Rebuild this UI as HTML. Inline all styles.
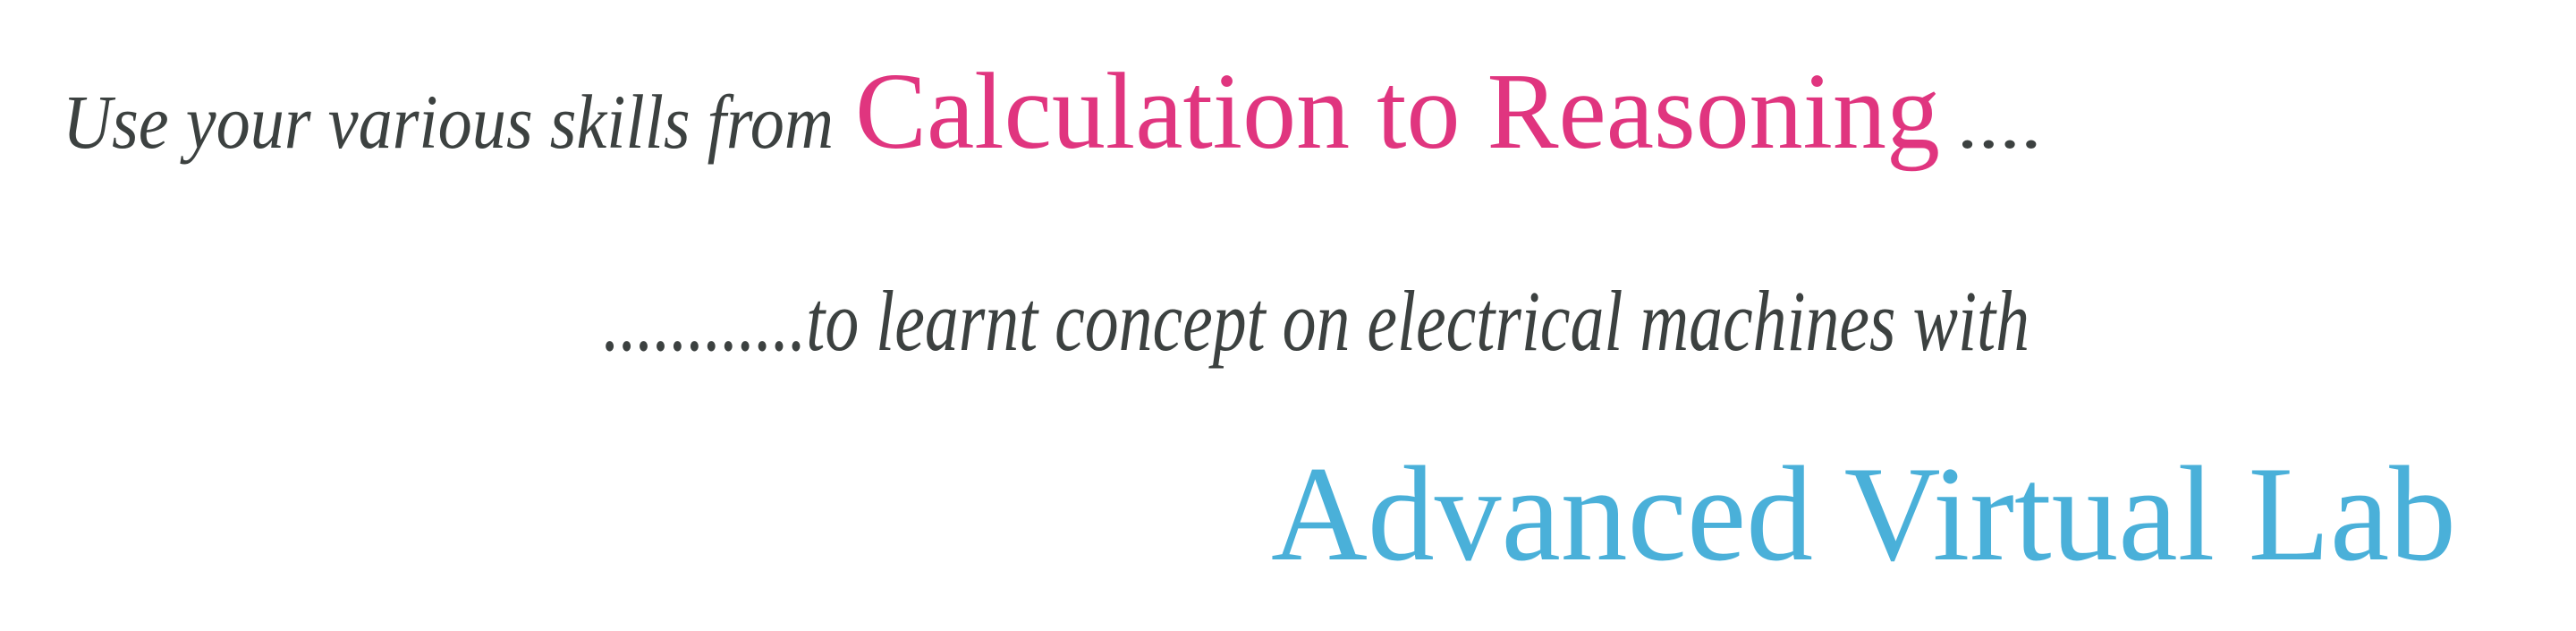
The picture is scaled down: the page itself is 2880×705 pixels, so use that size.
<!DOCTYPE html>
<html><head><meta charset="utf-8"><style>html,body{margin:0;padding:0;background:#fff;width:2880px;height:705px;overflow:hidden}</style></head>
<body>
<svg width="2880" height="705" xmlns="http://www.w3.org/2000/svg">
<text x="70" y="165" font-family="Liberation Serif, serif" font-style="italic" font-size="86" fill="#3c4140" textLength="862" lengthAdjust="spacingAndGlyphs">Use your various skills from</text>
<text x="956" y="165" font-family="Liberation Serif, serif" font-size="122" fill="#e0357f" textLength="1213" lengthAdjust="spacingAndGlyphs">Calculation to Reasoning</text>
<text x="2190" y="165" font-family="Liberation Serif, serif" font-style="italic" font-size="80" fill="#3c4140" textLength="95" lengthAdjust="spacingAndGlyphs">....</text>
<text x="674" y="391" font-family="Liberation Serif, serif" font-style="italic" font-size="96" fill="#3c4140" textLength="1595" lengthAdjust="spacingAndGlyphs">............to learnt concept on electrical machines with</text>
<text x="1421" y="625" font-family="Liberation Serif, serif" font-size="152" fill="#4ab0d9" textLength="1325" lengthAdjust="spacingAndGlyphs">Advanced Virtual Lab</text>
</svg>
</body></html>
